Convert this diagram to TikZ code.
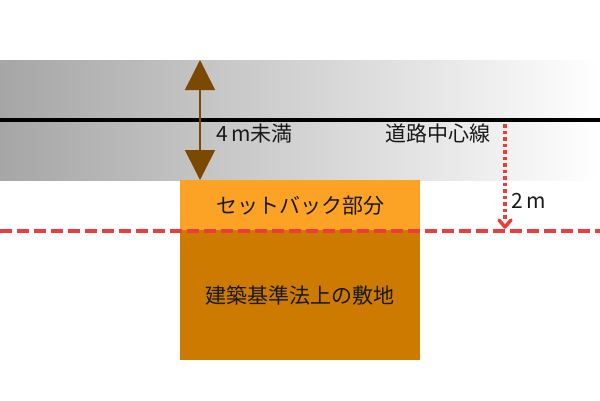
\documentclass[tikz,border=0pt]{standalone}
\usepackage{fontspec}
\setmainfont{Noto Sans CJK JP}
\usetikzlibrary{arrows.meta,calc}
\definecolor{roadgray}{HTML}{A6A6A6}
\definecolor{setback}{HTML}{FCA326}
\definecolor{lot}{HTML}{CC7A00}
\definecolor{redline}{HTML}{EE3B3B}
\definecolor{brownarrow}{HTML}{7B4A00}
\tikzset{
  lbl/.style={inner sep=0pt, font=\fontsize{21}{21}\selectfont, text=black!90},
  redDash/.style={draw=redline, line width=4pt, dash pattern=on 12pt off 5pt},
  redDot/.style={draw=redline, line width=3.5pt, dash pattern=on 3.5pt off 3pt},
}
\begin{document}
\begin{tikzpicture}[x=1pt,y=-1pt]
\useasboundingbox (0,0) rectangle (600,400);
% road band
\shade[left color=roadgray, right color=white] (0,60) rectangle (600,180);
\coordinate (cl) at (0,119.5);
\coordinate (cr) at (600,119.5);
\draw[line width=4pt, black] (cl) -- (cr);
% setback and lot
\node[fill=setback, minimum width=240pt, minimum height=50pt, inner sep=0pt, anchor=north west] (sb) at (180,180) {};
\node[fill=lot, minimum width=240pt, minimum height=130pt, inner sep=0pt, anchor=north west] (lotbox) at (180,230) {};
\node[lbl] at (sb.center) {セットバック部分};
\node[lbl] at (lotbox.center) {建築基準法上の敷地};
% red dashed line
\coordinate (dl) at (0,230.5);
\coordinate (dr) at (600,230.5);
\draw[redDash] (dl) -- (dr);
% double arrow
\coordinate (at) at (200,60);
\coordinate (ab) at (200,180);
\draw[brownarrow, line width=1.5pt, {Triangle[length=30pt,width=30pt]}-{Triangle[length=30pt,width=30pt]}] (at) -- (ab);
\node[lbl, anchor=west] (w4) at (216,134) {4\,m未満};
\node[lbl, anchor=west] (cln) at (385,134) {道路中心線};
% 2m dotted arrow
\coordinate (d1) at (505,124);
\coordinate (d2) at (505,227);
\draw[redDot] (d1) -- ($(d2)+(0,-6)$);
\draw[redline, line width=3.5pt, line cap=round, line join=round] (499,220) -- (d2) -- (511,220);
\node[lbl, anchor=west] (two) at (511,201) {2\,m};
\end{tikzpicture}
\end{document}
